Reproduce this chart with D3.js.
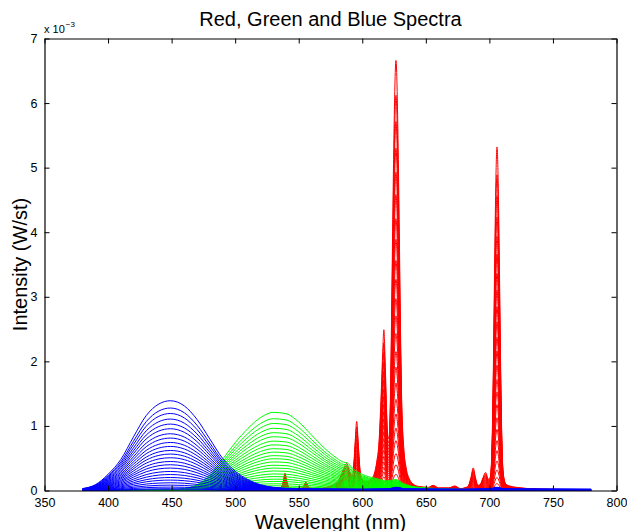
<!DOCTYPE html>
<html>
<head>
<meta charset="utf-8">
<script src="https://cdn.jsdelivr.net/npm/d3@7/dist/d3.min.js"></script>
<style>
    body { margin: 0; background: #fff; }
    text { font-family: "Liberation Sans", Arial, Helvetica, sans-serif; }
</style>
</head>
<body>
<div id="chart"></div>
<script>

// brightness levels of the curves, as a fraction of the brightest curve
const levels = [1, 0.919, 0.858, 0.796, 0.740, 0.688, 0.632, 0.584, 0.535, 0.491, 0.446,
    0.406, 0.365, 0.323, 0.287, 0.250, 0.212, 0.178, 0.145, 0.116, 0.086, 0.060, 0.038, 0.020, 0.008];

// brightest spectrum of each channel: [wavelength nm, intensity x 1e-3 W/st]
const redSpectrum = [
    [380, 0.0], [450, 0.005], [500, 0.01], [520, 0.015], [530, 0.02], [536, 0.04], [538, 0.15],
    [539.2, 0.27], [540.5, 0.15], [542.5, 0.04], [548, 0.03], [553, 0.04], [555.7, 0.13], [558, 0.04],
    [565, 0.03], [572, 0.05], [578, 0.1], [582, 0.18], [585, 0.32], [587.7, 0.42], [590, 0.3],
    [592.5, 0.22], [593.5, 0.45], [594.5, 0.78], [595.6, 1.07], [596.7, 0.78], [597.7, 0.45],
    [598.8, 0.22], [603, 0.14], [607, 0.18], [610, 0.3], [611.8, 0.5], [613, 0.7], [614.5, 1.3],
    [616, 2.1], [617, 2.49], [618, 2.0], [619.2, 1.2], [620.3, 0.8], [621.2, 0.85], [622, 1.3],
    [623, 2.6], [624, 4.2], [625, 5.6], [626.5, 6.66], [628, 5.6], [629, 4.2], [630, 2.6],
    [631, 1.4], [632.5, 0.7], [634.5, 0.35], [637, 0.18], [640, 0.1], [645, 0.06], [652, 0.05],
    [655.8, 0.08], [660, 0.04], [668, 0.04], [672.9, 0.07], [677, 0.03], [683, 0.06], [685.5, 0.2],
    [687.3, 0.35], [689, 0.2], [691, 0.08], [693, 0.1], [695, 0.2], [697, 0.28], [699, 0.18],
    [700, 0.17], [701, 0.25], [702.2, 0.8], [703.2, 2.0], [704.2, 3.6], [705.1, 4.8], [706, 5.32],
    [706.9, 4.8], [707.8, 3.6], [708.8, 2.0], [709.8, 0.8], [711, 0.25], [713, 0.1], [716, 0.07],
    [725, 0.04], [740, 0.02], [760, 0.015], [780, 0.01]
];

const greenSpectrum = [
    [380, 0.005], [420, 0.005], [450, 0.01], [460, 0.03], [470, 0.09], [480, 0.24], [490, 0.48],
    [500, 0.74], [510, 0.96], [520, 1.13], [530, 1.21], [540, 1.19], [550, 1.06], [560, 0.86],
    [570, 0.66], [580, 0.5], [585, 0.44], [588, 0.43], [592, 0.35], [600, 0.25], [610, 0.19],
    [620, 0.15], [626.5, 0.17], [632, 0.11], [640, 0.06], [650, 0.04], [670, 0.02], [700, 0.015],
    [706, 0.03], [712, 0.015], [780, 0.01]
];

const blueSpectrum = [
    [380, 0.03], [390, 0.09], [400, 0.25], [410, 0.48], [420, 0.83], [430, 1.16], [440, 1.34],
    [449, 1.39], [460, 1.31], [470, 1.1], [480, 0.8], [490, 0.5], [500, 0.3], [510, 0.17],
    [520, 0.09], [530, 0.05], [545, 0.03], [560, 0.025], [600, 0.02], [620, 0.025], [627, 0.05],
    [634, 0.025], [680, 0.02], [700, 0.025], [706, 0.05], [712, 0.025], [780, 0.02]
];

const xTicks = [350, 400, 450, 500, 550, 600, 650, 700, 750, 800];
const yTicks = [0, 1, 2, 3, 4, 5, 6, 7];


class SpectraVis {

    constructor(parentElement) {
        this.parentElement = parentElement;
        this.initVis();
    }

    initVis() {
        let vis = this;

        vis.margin = { top: 38.5, right: 10.5, bottom: 40.5, left: 44.5 };
        vis.width = 627 - vis.margin.left - vis.margin.right;
        vis.height = 531 - vis.margin.top - vis.margin.bottom;

        vis.root = d3.select("#" + vis.parentElement).append("svg")
            .attr("width", 627)
            .attr("height", 531);
        vis.svg = vis.root.append("g")
            .attr("transform", "translate(" + vis.margin.left + "," + vis.margin.top + ")");

        vis.x = d3.scaleLinear().domain([350, 800]).range([0, vis.width]);
        vis.y = d3.scaleLinear().domain([0, 7]).range([vis.height, 0]);

        vis.channels = [
            { data: redSpectrum, color: "#ff0000" },
            { data: greenSpectrum, color: "#00ff00" },
            { data: blueSpectrum, color: "#0000ff" }
        ];

        vis.updateVis();
    }

    updateVis() {
        let vis = this;

        // one line per brightness level, red first so blue ends up on top
        vis.channels.forEach(function(ch) {
            vis.svg.append("g")
                .selectAll("path")
                .data(levels)
                .enter().append("path")
                .attr("fill", "none")
                .attr("stroke", ch.color)
                .attr("stroke-width", 1)
                .attr("d", function(lvl) {
                    return d3.line()
                        .x(d => vis.x(d[0]))
                        .y(d => vis.y(d[1] * lvl))
                        .curve(d3.curveMonotoneX)(ch.data);
                });
        });

        // axes, ticks pointing inwards like matlab
        let bottom = vis.svg.append("g")
            .attr("transform", "translate(0," + vis.height + ")")
            .call(d3.axisBottom(vis.x).tickValues(xTicks).tickSizeInner(-5).tickSizeOuter(0).tickPadding(8));
        vis.svg.append("g")
            .call(d3.axisTop(vis.x).tickValues(xTicks).tickSizeInner(-5).tickSizeOuter(0).tickFormat(""));
        let left = vis.svg.append("g")
            .call(d3.axisLeft(vis.y).tickValues(yTicks).tickFormat(d3.format("d"))
                .tickSizeInner(-5).tickSizeOuter(0).tickPadding(7));
        vis.svg.append("g")
            .attr("transform", "translate(" + vis.width + ",0)")
            .call(d3.axisRight(vis.y).tickValues(yTicks).tickSizeInner(-5).tickSizeOuter(0).tickFormat(""));

        vis.svg.selectAll(".tick line").attr("stroke", "#000");
        vis.svg.selectAll(".domain").attr("stroke", "#000").attr("stroke-width", 1.2);
        bottom.selectAll("text").attr("font-size", 12.5).attr("fill", "#000").style("font-family", "Liberation Sans, Arial");
        left.selectAll("text").attr("font-size", 12.5).attr("fill", "#000").style("font-family", "Liberation Sans, Arial");

        // exponent label
        let expo = vis.root.append("text")
            .attr("x", 44)
            .attr("y", 32.5)
            .attr("font-size", 11);
        expo.append("tspan").text("x 10");
        expo.append("tspan")
            .attr("font-size", 8)
            .attr("dy", -6)
            .attr("dx", 1)
            .text("\u22123");

        vis.root.append("text")
            .attr("x", vis.margin.left + vis.width / 2)
            .attr("y", 26)
            .attr("text-anchor", "middle")
            .attr("font-size", 20)
            .text("Red, Green and Blue Spectra");

        vis.root.append("text")
            .attr("x", vis.margin.left + vis.width / 2)
            .attr("y", 528.5)
            .attr("text-anchor", "middle")
            .attr("font-size", 20)
            .text("Wavelenght (nm)");

        vis.root.append("text")
            .attr("transform", "translate(27," + (vis.margin.top + vis.height / 2) + ") rotate(-90)")
            .attr("text-anchor", "middle")
            .attr("font-size", 20)
            .text("Intensity (W/st)");
    }
}

new SpectraVis("chart");

</script>
</body>
</html>
